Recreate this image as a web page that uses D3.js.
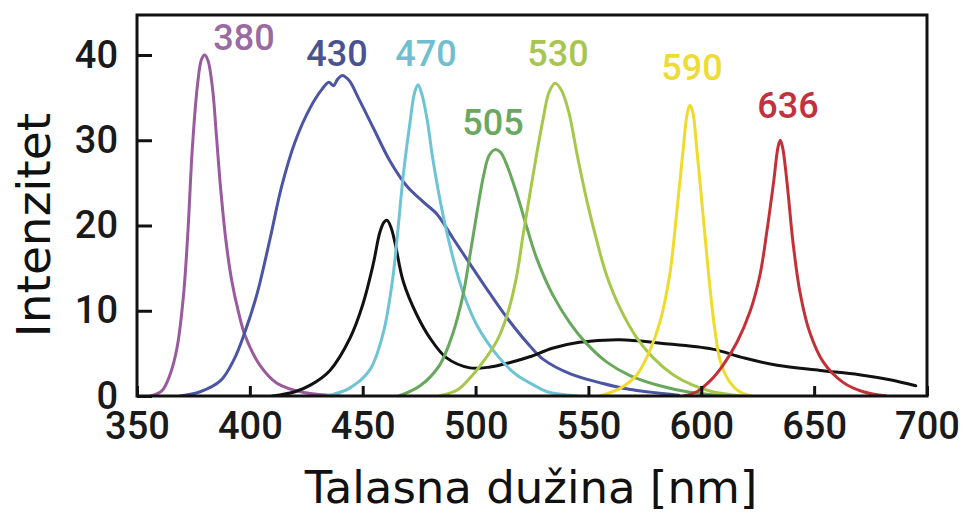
<!DOCTYPE html>
<html>
<head>
<meta charset="utf-8">
<script src="https://cdn.jsdelivr.net/npm/d3@7"></script>
<style>
  html, body { margin: 0; padding: 0; background: #fff; }
  svg { display: block; }
</style>
</head>
<body>
<svg id="chart" width="965" height="513"></svg>
<script>
// ---------- DATA ----------
const xTicks = [350, 400, 450, 500, 550, 600, 650, 700];
const yTicks = [0, 10, 20, 30, 40];
const xTitle = "Talasna dužina [nm]";
const yTitle = "Intenzitet";

const seriesNames = ["380", "430", "470", "505", "530", "590", "636", "white"];

const wl380  = [356, 361, 364.6, 367.7, 370.5, 372.5, 374.5, 376.8, 378.6, 380, 381.5, 383.5, 385.2, 387, 389.5, 392, 395, 398, 404.5, 412, 424, 440];
const int380 = [0, 0.6, 2.5, 5.6, 11.5, 19, 29, 36.5, 39.5, 40, 39.3, 36, 30.5, 24.5, 18, 13.5, 9.8, 7.0, 3.6, 1.5, 0.4, 0];

const wl430  = [369, 378, 387, 393, 397.4, 403, 409, 414, 420, 426.7, 432, 435, 437, 439, 441, 444, 448, 454.6, 462, 469.6, 476.7, 483, 490, 497.5, 506.4, 515, 524, 530, 542, 556, 568, 590];
const int430 = [0, 0.5, 1.8, 4.3, 7.2, 11.8, 18.5, 24.5, 29.8, 33.8, 36, 36.8, 36.4, 37.2, 37.6, 37, 35, 31.5, 27.6, 24.6, 22.8, 21.3, 18.5, 15.5, 12.0, 8.8, 5.9, 4.3, 2.6, 1.5, 0.8, 0.1];

const wl470  = [434, 444, 453, 459, 463, 465.5, 468, 471, 473, 474.5, 476, 478.5, 481, 485.6, 490, 494.4, 500.6, 509.5, 518, 525, 531.7, 545];
const int470 = [0, 0.9, 3.0, 7.3, 13.2, 19.2, 26, 32.2, 35.6, 36.5, 35.6, 32.5, 27.9, 21.2, 16.2, 12.2, 8.3, 4.8, 2.5, 1.4, 0.5, 0];

const wl505  = [466, 475.4, 484, 490, 494.4, 497.5, 500.6, 503.5, 506, 508.6, 511, 514, 518.4, 522.8, 527, 534.3, 542, 549, 558, 568.4, 581.7, 593.7, 610];
const int505 = [0, 1.2, 3.6, 7.4, 11.8, 16.5, 21.5, 25.8, 28.2, 28.9, 28.6, 27.0, 23.6, 19.7, 16.2, 11.8, 8.5, 6.2, 4.0, 2.4, 1.2, 0.5, 0];

const wl530  = [484, 491.8, 497.5, 503.3, 509.5, 514, 518, 521, 524, 527, 530, 532.5, 535.2, 538, 541.3, 545, 549.4, 553.8, 558, 564, 571.5, 578.6, 587.5, 596, 605, 618];
const int530 = [0, 0.7, 2.1, 4.0, 6.5, 9.5, 13.8, 18.8, 23.6, 28.3, 32.6, 35.6, 36.7, 35.9, 33.3, 28.3, 22.8, 18.1, 14.2, 10.3, 6.8, 4.5, 2.5, 1.3, 0.5, 0];

const wl590  = [555, 564, 571.5, 577, 581.7, 586, 589, 592, 593.8, 595, 596.3, 598, 600.8, 603.5, 606, 608.5, 612.7, 617, 622];
const int590 = [0, 0.9, 2.5, 5.2, 8.7, 14.2, 21.2, 29, 33.2, 34.1, 33.2, 29, 21.2, 13.6, 7.8, 4.0, 1.6, 0.5, 0];

const wl636  = [592, 598, 604, 609.6, 615.8, 621.6, 626, 629, 632, 634, 635, 636, 638, 640.6, 643.7, 648, 654, 662.8, 671.7, 682];
const int636 = [0, 0.5, 1.8, 3.6, 6.3, 9.9, 14.2, 19.2, 25, 29.2, 30, 29.2, 25, 18.1, 12.2, 7.5, 4.0, 1.6, 0.5, 0];

const wlWhite  = [410, 420, 427, 435.5, 444.4, 450, 454.6, 457.6, 459.5, 460.8, 462.5, 464.3, 468, 474, 479.8, 487, 497.5, 506.4, 515, 524, 534, 546, 564, 582, 605, 618.5, 633.6, 652.6, 670, 683.6, 695];
const intWhite = [0, 0.5, 1.3, 3.0, 6.8, 10.7, 15.4, 19.2, 20.4, 20.6, 19.8, 18.0, 13.4, 9.5, 6.8, 4.5, 3.3, 3.4, 3.9, 4.6, 5.6, 6.3, 6.6, 6.2, 5.5, 4.5, 3.6, 3.0, 2.5, 1.9, 1.2];

// ---------- STYLE ----------
const W = 965, H = 513;
const plot = { left: 137, right: 927, top: 15, bottom: 396 };
const styles = {
  "380":   { color: "#9a5a9e", label: "#9a6aa2", ly: 50 },
  "430":   { color: "#4b55a3", label: "#4a5292", ly: 66 },
  "470":   { color: "#6ec4d4", label: "#6fbfd0", ly: 66 },
  "505":   { color: "#67a85c", label: "#6aa862", ly: 135 },
  "530":   { color: "#a6c84a", label: "#a7c650", ly: 66 },
  "590":   { color: "#f0db2c", label: "#eedb34", ly: 80 },
  "636":   { color: "#c53038", label: "#c2323e", ly: 118 },
  "white": { color: "#111111" }
};
const labelCenters = { "380": 244, "430": 337, "470": 426, "505": 493, "530": 558, "590": 692, "636": 788 };

const data = {
  "380": [wl380, int380], "430": [wl430, int430], "470": [wl470, int470],
  "505": [wl505, int505], "530": [wl530, int530], "590": [wl590, int590],
  "636": [wl636, int636], "white": [wlWhite, intWhite]
};

// ---------- SCALES ----------
const x = d3.scaleLinear().domain([350, 700]).range([plot.left, plot.right]);
const y = d3.scaleLinear().domain([0, 40]).range([plot.bottom, 55]);

const svg = d3.select("#chart");
svg.append("rect").attr("width", W).attr("height", H).attr("fill", "#fff");

svg.append("defs").append("clipPath").attr("id", "clip")
  .append("rect")
  .attr("x", plot.left).attr("y", plot.top)
  .attr("width", plot.right - plot.left).attr("height", plot.bottom - plot.top);

const line = d3.line()
  .x(d => x(d[0])).y(d => y(d[1]))
  .curve(d3.curveCatmullRom.alpha(0.5));

const drawOrder = ["380", "430", "white", "470", "505", "530", "590", "636"];
const g = svg.append("g").attr("clip-path", "url(#clip)");
drawOrder.forEach(name => {
  const [wl, iv] = data[name];
  const pts = wl.map((w, i) => [w, iv[i]]);
  g.append("path")
    .datum(pts)
    .attr("d", line)
    .attr("fill", "none")
    .attr("stroke", styles[name].color)
    .attr("stroke-width", 3)
    .attr("stroke-linejoin", "round")
    .attr("stroke-linecap", "round");
});

// ---------- FRAME & AXES ----------
svg.append("rect")
  .attr("x", plot.left).attr("y", plot.top)
  .attr("width", plot.right - plot.left).attr("height", plot.bottom - plot.top)
  .attr("fill", "none").attr("stroke", "#111").attr("stroke-width", 3);

const xAxis = d3.axisBottom(x).tickValues(xTicks).tickSize(-10).tickPadding(16).tickFormat(d3.format("d"));
const xg = svg.append("g").attr("transform", `translate(0,${plot.bottom})`).call(xAxis);
xg.select(".domain").remove();
xg.selectAll(".tick line").attr("stroke", "#111").attr("stroke-width", 3);
xg.selectAll(".tick text")
  .attr("font-family", "Roboto, 'DejaVu Sans', sans-serif")
  .attr("font-weight", 500)
  .attr("font-size", 38)
  .attr("fill", "#1a1a1a");

const yAxis = d3.axisLeft(y).tickValues(yTicks).tickSize(-15).tickPadding(19).tickFormat(d3.format("d"));
const yg = svg.append("g").attr("transform", `translate(${plot.left},0)`).call(yAxis);
yg.select(".domain").remove();
yg.selectAll(".tick line").attr("stroke", "#111").attr("stroke-width", 3);
yg.selectAll(".tick text")
  .attr("font-family", "Roboto, 'DejaVu Sans', sans-serif")
  .attr("font-weight", 500)
  .attr("font-size", 38)
  .attr("fill", "#1a1a1a");

// ---------- PEAK LABELS ----------
seriesNames.filter(n => n !== "white").forEach(name => {
  svg.append("text")
    .attr("x", labelCenters[name])
    .attr("y", styles[name].ly)
    .attr("text-anchor", "middle")
    .attr("font-family", "Roboto, 'DejaVu Sans', sans-serif")
    .attr("font-weight", 500)
    .attr("font-size", 36)
    .attr("fill", styles[name].label)
    .text(name);
});

// ---------- TITLES ----------
svg.append("text")
  .attr("x", (plot.left + plot.right) / 2 - 1)
  .attr("y", 503)
  .attr("text-anchor", "middle")
  .attr("font-family", "'DejaVu Sans', sans-serif")
  .attr("font-size", 45)
  .attr("fill", "#111")
  .text(xTitle);

svg.append("text")
  .attr("transform", "translate(50,225) rotate(-90)")
  .attr("text-anchor", "middle")
  .attr("font-family", "'DejaVu Sans', sans-serif")
  .attr("font-size", 47)
  .attr("fill", "#111")
  .text(yTitle);
</script>
</body>
</html>
